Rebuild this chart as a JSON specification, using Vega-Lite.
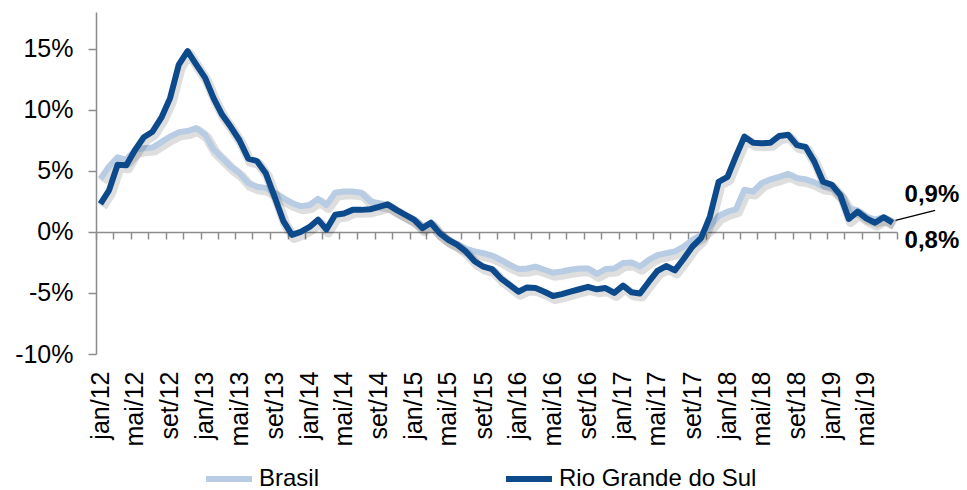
{
  "$schema": "https://vega.github.io/schema/vega-lite/v6.json",
  "width": 801,
  "height": 342,
  "autosize": "none",
  "padding": {"left": 96, "top": 12, "right": 70, "bottom": 136},
  "background": "white",
  "config": {
    "view": {"stroke": null},
    "font": "Liberation Sans",
    "axis": {"labelFont": "Liberation Sans", "labelColor": "#000", "title": null, "grid": false}
  },
  "data": {
    "values": [
      {"d":"2012-01-01","Brasil":4.35,"Rio Grande do Sul":2.3},
      {"d":"2012-02-01","Brasil":5.35,"Rio Grande do Sul":3.4},
      {"d":"2012-03-01","Brasil":6.1,"Rio Grande do Sul":5.5},
      {"d":"2012-04-01","Brasil":5.9,"Rio Grande do Sul":5.45},
      {"d":"2012-05-01","Brasil":6.7,"Rio Grande do Sul":6.7},
      {"d":"2012-06-01","Brasil":6.85,"Rio Grande do Sul":7.75},
      {"d":"2012-07-01","Brasil":6.9,"Rio Grande do Sul":8.2},
      {"d":"2012-08-01","Brasil":7.35,"Rio Grande do Sul":9.35},
      {"d":"2012-09-01","Brasil":7.8,"Rio Grande do Sul":10.95},
      {"d":"2012-10-01","Brasil":8.15,"Rio Grande do Sul":13.7},
      {"d":"2012-11-01","Brasil":8.25,"Rio Grande do Sul":14.8},
      {"d":"2012-12-01","Brasil":8.5,"Rio Grande do Sul":13.7},
      {"d":"2013-01-01","Brasil":7.95,"Rio Grande do Sul":12.6},
      {"d":"2013-02-01","Brasil":6.75,"Rio Grande do Sul":10.95},
      {"d":"2013-03-01","Brasil":6.05,"Rio Grande do Sul":9.6},
      {"d":"2013-04-01","Brasil":5.35,"Rio Grande do Sul":8.6},
      {"d":"2013-05-01","Brasil":4.8,"Rio Grande do Sul":7.5},
      {"d":"2013-06-01","Brasil":4.0,"Rio Grande do Sul":6.0},
      {"d":"2013-07-01","Brasil":3.7,"Rio Grande do Sul":5.8},
      {"d":"2013-08-01","Brasil":3.6,"Rio Grande do Sul":4.8},
      {"d":"2013-09-01","Brasil":3.2,"Rio Grande do Sul":2.9},
      {"d":"2013-10-01","Brasil":2.75,"Rio Grande do Sul":0.9},
      {"d":"2013-11-01","Brasil":2.35,"Rio Grande do Sul":-0.25},
      {"d":"2013-12-01","Brasil":2.1,"Rio Grande do Sul":0.0},
      {"d":"2014-01-01","Brasil":2.2,"Rio Grande do Sul":0.4},
      {"d":"2014-02-01","Brasil":2.7,"Rio Grande do Sul":1.0},
      {"d":"2014-03-01","Brasil":2.2,"Rio Grande do Sul":0.2},
      {"d":"2014-04-01","Brasil":3.2,"Rio Grande do Sul":1.4},
      {"d":"2014-05-01","Brasil":3.3,"Rio Grande do Sul":1.5},
      {"d":"2014-06-01","Brasil":3.3,"Rio Grande do Sul":1.8},
      {"d":"2014-07-01","Brasil":3.2,"Rio Grande do Sul":1.8},
      {"d":"2014-08-01","Brasil":2.5,"Rio Grande do Sul":1.85},
      {"d":"2014-09-01","Brasil":2.35,"Rio Grande do Sul":2.05},
      {"d":"2014-10-01","Brasil":2.2,"Rio Grande do Sul":2.25},
      {"d":"2014-11-01","Brasil":1.8,"Rio Grande do Sul":1.8},
      {"d":"2014-12-01","Brasil":1.4,"Rio Grande do Sul":1.4},
      {"d":"2015-01-01","Brasil":1.0,"Rio Grande do Sul":1.0},
      {"d":"2015-02-01","Brasil":0.45,"Rio Grande do Sul":0.3},
      {"d":"2015-03-01","Brasil":0.7,"Rio Grande do Sul":0.75},
      {"d":"2015-04-01","Brasil":-0.1,"Rio Grande do Sul":-0.1},
      {"d":"2015-05-01","Brasil":-0.65,"Rio Grande do Sul":-0.65},
      {"d":"2015-06-01","Brasil":-1.0,"Rio Grande do Sul":-1.05},
      {"d":"2015-07-01","Brasil":-1.4,"Rio Grande do Sul":-1.6},
      {"d":"2015-08-01","Brasil":-1.6,"Rio Grande do Sul":-2.4},
      {"d":"2015-09-01","Brasil":-1.75,"Rio Grande do Sul":-2.85},
      {"d":"2015-10-01","Brasil":-1.95,"Rio Grande do Sul":-3.05},
      {"d":"2015-11-01","Brasil":-2.3,"Rio Grande do Sul":-3.8},
      {"d":"2015-12-01","Brasil":-2.7,"Rio Grande do Sul":-4.35},
      {"d":"2016-01-01","Brasil":-3.05,"Rio Grande do Sul":-4.9},
      {"d":"2016-02-01","Brasil":-3.0,"Rio Grande do Sul":-4.55},
      {"d":"2016-03-01","Brasil":-2.85,"Rio Grande do Sul":-4.6},
      {"d":"2016-04-01","Brasil":-3.1,"Rio Grande do Sul":-4.9},
      {"d":"2016-05-01","Brasil":-3.35,"Rio Grande do Sul":-5.25},
      {"d":"2016-06-01","Brasil":-3.25,"Rio Grande do Sul":-5.1},
      {"d":"2016-07-01","Brasil":-3.1,"Rio Grande do Sul":-4.9},
      {"d":"2016-08-01","Brasil":-3.0,"Rio Grande do Sul":-4.7},
      {"d":"2016-09-01","Brasil":-3.0,"Rio Grande do Sul":-4.5},
      {"d":"2016-10-01","Brasil":-3.45,"Rio Grande do Sul":-4.7},
      {"d":"2016-11-01","Brasil":-3.05,"Rio Grande do Sul":-4.6},
      {"d":"2016-12-01","Brasil":-3.0,"Rio Grande do Sul":-5.0},
      {"d":"2017-01-01","Brasil":-2.55,"Rio Grande do Sul":-4.4},
      {"d":"2017-02-01","Brasil":-2.5,"Rio Grande do Sul":-4.95},
      {"d":"2017-03-01","Brasil":-2.85,"Rio Grande do Sul":-5.05},
      {"d":"2017-04-01","Brasil":-2.3,"Rio Grande do Sul":-4.1},
      {"d":"2017-05-01","Brasil":-1.9,"Rio Grande do Sul":-3.2},
      {"d":"2017-06-01","Brasil":-1.75,"Rio Grande do Sul":-2.8},
      {"d":"2017-07-01","Brasil":-1.6,"Rio Grande do Sul":-3.15},
      {"d":"2017-08-01","Brasil":-1.2,"Rio Grande do Sul":-2.2},
      {"d":"2017-09-01","Brasil":-0.65,"Rio Grande do Sul":-1.2},
      {"d":"2017-10-01","Brasil":-0.25,"Rio Grande do Sul":-0.5},
      {"d":"2017-11-01","Brasil":0.45,"Rio Grande do Sul":1.25},
      {"d":"2017-12-01","Brasil":1.3,"Rio Grande do Sul":4.1},
      {"d":"2018-01-01","Brasil":1.65,"Rio Grande do Sul":4.5},
      {"d":"2018-02-01","Brasil":1.85,"Rio Grande do Sul":6.2},
      {"d":"2018-03-01","Brasil":3.45,"Rio Grande do Sul":7.8},
      {"d":"2018-04-01","Brasil":3.3,"Rio Grande do Sul":7.3},
      {"d":"2018-05-01","Brasil":4.0,"Rio Grande do Sul":7.25},
      {"d":"2018-06-01","Brasil":4.3,"Rio Grande do Sul":7.3},
      {"d":"2018-07-01","Brasil":4.5,"Rio Grande do Sul":7.85},
      {"d":"2018-08-01","Brasil":4.75,"Rio Grande do Sul":7.95},
      {"d":"2018-09-01","Brasil":4.4,"Rio Grande do Sul":7.1},
      {"d":"2018-10-01","Brasil":4.3,"Rio Grande do Sul":6.95},
      {"d":"2018-11-01","Brasil":4.05,"Rio Grande do Sul":5.75},
      {"d":"2018-12-01","Brasil":3.7,"Rio Grande do Sul":4.1},
      {"d":"2019-01-01","Brasil":3.6,"Rio Grande do Sul":3.85},
      {"d":"2019-02-01","Brasil":3.0,"Rio Grande do Sul":3.0},
      {"d":"2019-03-01","Brasil":1.95,"Rio Grande do Sul":1.05},
      {"d":"2019-04-01","Brasil":1.75,"Rio Grande do Sul":1.65},
      {"d":"2019-05-01","Brasil":1.25,"Rio Grande do Sul":1.1},
      {"d":"2019-06-01","Brasil":1.0,"Rio Grande do Sul":0.75},
      {"d":"2019-07-01","Brasil":1.2,"Rio Grande do Sul":1.2},
      {"d":"2019-08-01","Brasil":0.85,"Rio Grande do Sul":0.75}
    ]
  },
  "transform": [
    {"fold": ["Brasil", "Rio Grande do Sul"], "as": ["serie", "v"]}
  ],
  "encoding": {
    "x": {
      "field": "d",
      "type": "temporal",
      "timeUnit": "utcyearmonth",
      "bandPosition": 0.5,
      "scale": {
        "type": "utc",
        "domain": [
          {"year": 2012, "month": 1, "date": 1, "utc": true},
          {"year": 2019, "month": 9, "date": 1, "utc": true}
        ]
      },
      "axis": {
        "offset": -122,
        "tickCount": {"interval": "month", "step": 2},
        "domainColor": "#8c8c8c",
        "domainWidth": 1.5,
        "tickColor": "#8c8c8c",
        "tickWidth": 1.5,
        "tickSize": 7,
        "labelAngle": -90,
        "labelFontSize": 25,
        "labelPadding": 132,
        "labelOffset": 4,
        "labelOverlap": false,
        "labelFlush": false,
        "labelBound": false,
        "labelExpr": "(utcmonth(datum.value) % 4 == 0 && datum.value < utc(2019, 8, 1)) ? ['jan','fev','mar','abr','mai','jun','jul','ago','set','out','nov','dez'][utcmonth(datum.value)] + '/' + utcFormat(datum.value, '%y') : ''"
      }
    },
    "y": {
      "field": "v",
      "type": "quantitative",
      "scale": {"domain": [-10, 18], "nice": false, "zero": false},
      "axis": {
        "values": [-10, -5, 0, 5, 10, 15],
        "domainColor": "#8c8c8c",
        "domainWidth": 1.5,
        "tickColor": "#8c8c8c",
        "tickWidth": 1.5,
        "tickSize": 8,
        "labelFontSize": 25,
        "labelPadding": 15,
        "labelExpr": "datum.value + '%'"
      }
    }
  },
  "layer": [
    {
      "transform": [{"filter": "datum.serie == 'Brasil'"}],
      "mark": {"type": "line", "color": "#000", "opacity": 0.13, "strokeWidth": 10, "xOffset": 2, "yOffset": 3, "strokeJoin": "round"},
      "encoding": {"detail": {"field": "serie"}}
    },
    {
      "transform": [{"filter": "datum.serie == 'Brasil'"}],
      "mark": {"type": "line", "strokeWidth": 6, "strokeJoin": "round"},
      "encoding": {
        "color": {
          "field": "serie",
          "type": "nominal",
          "scale": {"domain": ["Brasil", "Rio Grande do Sul"], "range": ["#b8cce4", "#0d4a8c"]},
          "legend": {
            "title": null,
            "orient": "none",
            "direction": "horizontal",
            "legendX": 107,
            "legendY": 441,
            "padding": 0,
            "symbolType": "stroke",
            "symbolSize": 2116,
            "symbolStrokeWidth": 6,
            "labelFontSize": 24,
            "labelFont": "Liberation Sans",
            "labelColor": "#000",
            "labelOffset": 4,
            "labelLimit": 400,
            "columnPadding": 174
          }
        }
      }
    },
    {
      "transform": [{"filter": "datum.serie == 'Rio Grande do Sul'"}],
      "mark": {"type": "line", "color": "#000", "opacity": 0.13, "strokeWidth": 10, "xOffset": 2, "yOffset": 3, "strokeJoin": "round"},
      "encoding": {"detail": {"field": "serie"}}
    },
    {
      "transform": [{"filter": "datum.serie == 'Rio Grande do Sul'"}],
      "mark": {"type": "line", "strokeWidth": 6, "strokeJoin": "round"},
      "encoding": {
        "color": {"field": "serie", "type": "nominal"}
      }
    },
    {
      "transform": [{"filter": "datum.serie == 'Brasil' && utcyear(datum.d) == 2019 && utcmonth(datum.d) == 7"}],
      "mark": {"type": "rule", "color": "#000", "strokeWidth": 1.3, "xOffset": 3, "x2Offset": 47, "yOffset": -1, "y2Offset": -11},
      "encoding": {
        "x2": {"field": "d", "timeUnit": "utcyearmonth"},
        "y2": {"field": "v"}
      }
    },
    {
      "transform": [{"filter": "datum.serie == 'Brasil' && utcyear(datum.d) == 2019 && utcmonth(datum.d) == 7"}],
      "mark": {"type": "text", "align": "left", "baseline": "alphabetic", "dx": 12, "dy": -19, "fontSize": 24, "fontWeight": "bold", "font": "Liberation Sans", "color": "#000"},
      "encoding": {"text": {"value": "0,9%"}}
    },
    {
      "transform": [{"filter": "datum.serie == 'Rio Grande do Sul' && utcyear(datum.d) == 2019 && utcmonth(datum.d) == 7"}],
      "mark": {"type": "text", "align": "left", "baseline": "alphabetic", "dx": 12, "dy": 25, "fontSize": 24, "fontWeight": "bold", "font": "Liberation Sans", "color": "#000"},
      "encoding": {"text": {"value": "0,8%"}}
    }
  ]
}
